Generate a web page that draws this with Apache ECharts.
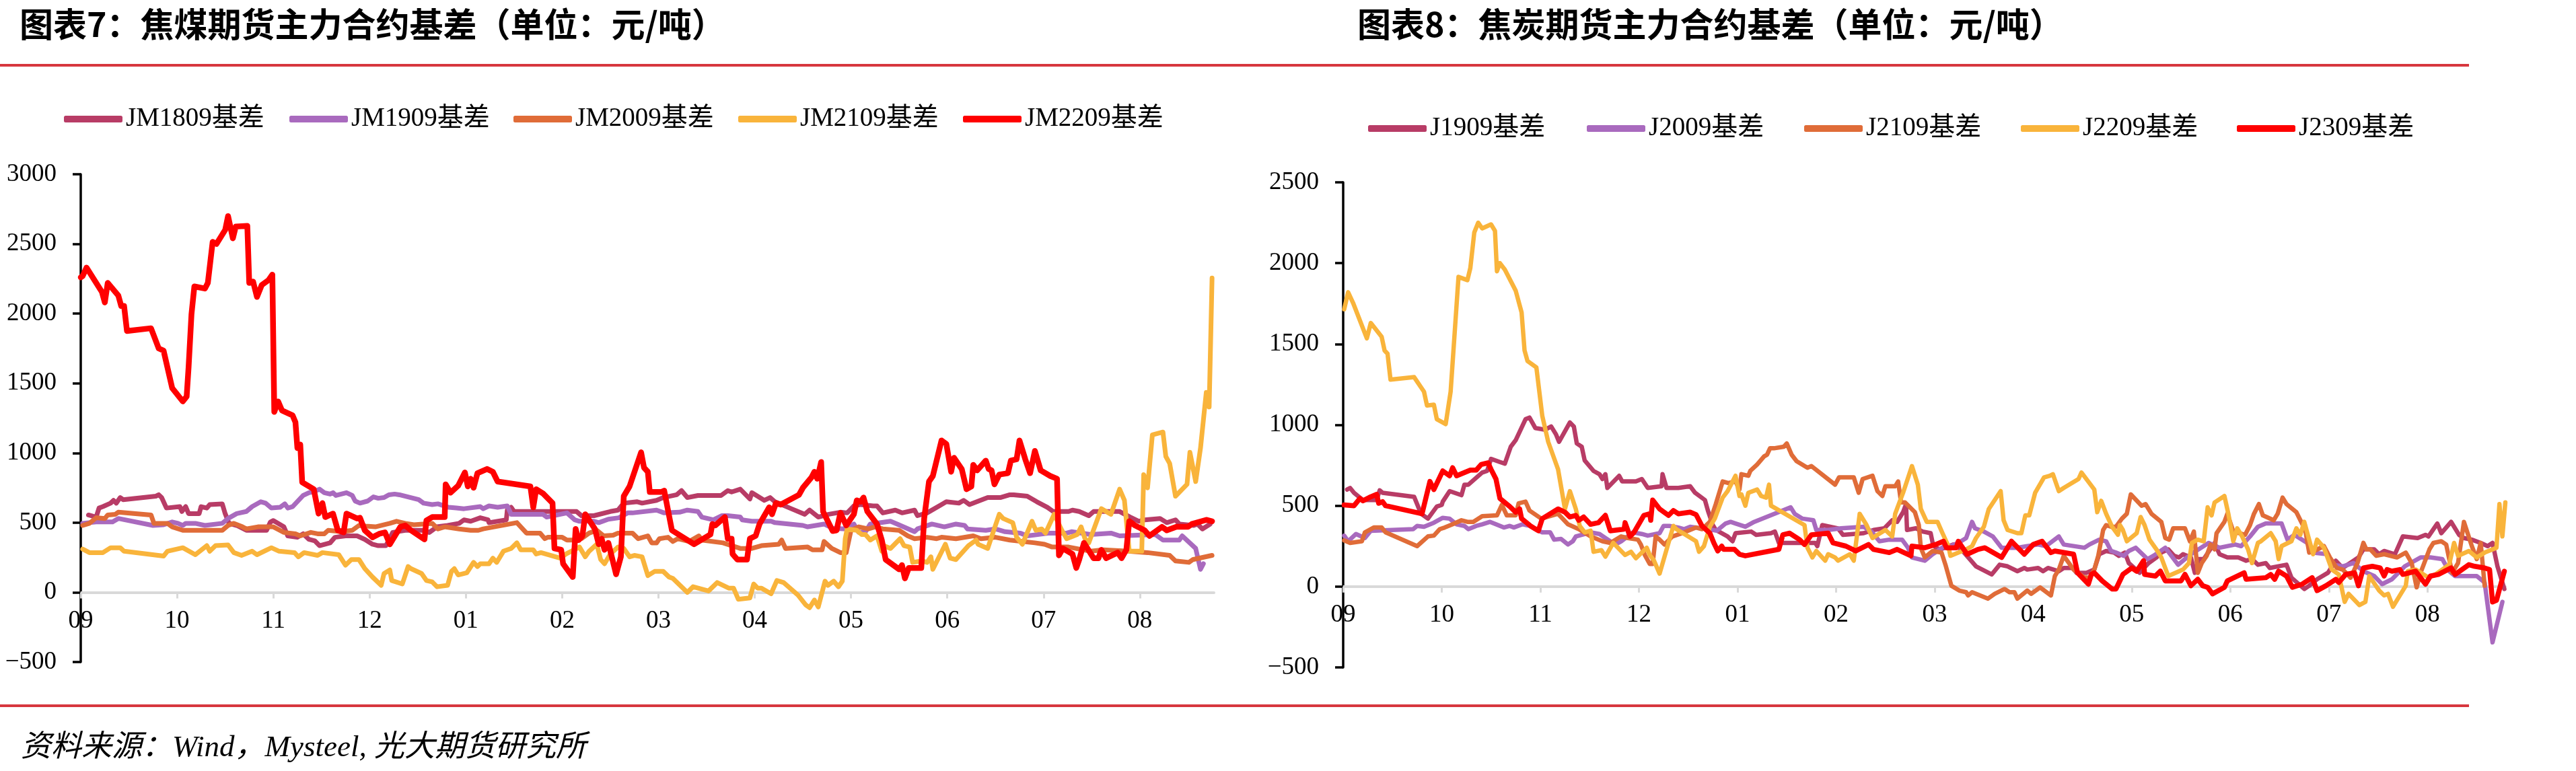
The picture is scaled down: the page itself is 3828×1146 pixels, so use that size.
<!DOCTYPE html>
<html>
<head>
<meta charset="utf-8">
<script src="https://cdn.jsdelivr.net/npm/echarts@6/dist/echarts.min.js"></script>
<style>
html,body{margin:0;padding:0;background:#fff;}
#c{width:3828px;height:1146px;}
</style>
</head>
<body>
<div id="c"></div>
<script>
// ---------- tick labels ----------
const monthLabels = ['09','10','11','12','01','02','03','04','05','06','07','08'];
const monthTicks = [0,1,2,3,4,5,6,7,8,9,10,11];

// ---------- titles / names ----------
const titleLeft = '图表7：焦煤期货主力合约基差（单位：元/吨）';
const titleRight = '图表8：焦炭期货主力合约基差（单位：元/吨）';
const sourceText = '资料来源：Wind，Mysteel, 光大期货研究所';
const namesLeft = ['JM1809基差','JM1909基差','JM2009基差','JM2109基差','JM2209基差'];
const namesRight = ['J1909基差','J2009基差','J2109基差','J2209基差','J2309基差'];

// ---------- data: [month position from Sep 1, basis] ----------
const jm1809 = [[0.08,555],[0.16,540],[0.19,605],[0.23,615],[0.31,640],[0.34,660],[0.37,640],[0.41,680],[0.44,665],[0.78,690],[0.81,700],[0.84,680],[0.89,605],[1.03,615],[1.05,580],[1.09,615],[1.12,565],[1.23,565],[1.25,615],[1.31,605],[1.34,630],[1.47,635],[1.50,565],[1.54,495],[1.62,480],[1.72,445],[1.93,445],[1.97,505],[2.00,515],[2.11,470],[2.15,405],[2.25,395],[2.31,420],[2.37,380],[2.43,370],[2.48,335],[2.59,355],[2.64,395],[2.75,405],[2.87,405],[2.95,380],[3.03,345],[3.09,335],[3.17,335],[3.24,430],[3.37,445],[3.56,445],[3.62,430],[3.70,470],[3.81,480],[3.93,495],[3.98,520],[4.05,510],[4.15,535],[4.23,520],[4.24,500],[4.42,520],[4.43,590],[4.47,610],[4.50,580],[4.60,580],[5.15,580],[5.20,550],[5.33,550],[5.50,580],[5.58,590],[5.64,640],[5.78,650],[5.83,640],[5.98,660],[6.05,680],[6.19,700],[6.24,730],[6.30,680],[6.41,695],[6.65,695],[6.72,730],[6.76,720],[6.85,740],[6.95,670],[6.97,715],[7.10,660],[7.16,680],[7.21,650],[7.38,600],[7.52,560],[7.57,590],[7.66,540],[7.77,560],[7.89,575],[7.96,570],[8.03,620],[8.10,630],[8.23,620],[8.27,620],[8.33,570],[8.46,590],[8.53,570],[8.66,590],[8.69,550],[8.79,570],[8.94,630],[8.99,650],[9.12,640],[9.17,660],[9.23,630],[9.42,680],[9.55,680],[9.65,700],[9.69,700],[9.83,690],[9.93,650],[10.04,610],[10.10,580],[10.26,580],[10.30,590],[10.37,580],[10.47,550],[10.52,580],[10.79,580],[10.90,540],[10.99,510],[11.05,520],[11.21,530],[11.28,500],[11.37,520],[11.41,490],[11.56,480],[11.60,490],[11.65,455],[11.73,490]];
const jm1909 = [[0.02,495],[0.16,505],[0.33,505],[0.39,530],[0.75,480],[0.86,485],[0.95,505],[1.01,495],[1.06,480],[1.09,495],[1.19,495],[1.29,480],[1.47,495],[1.53,530],[1.62,565],[1.72,580],[1.78,615],[1.87,650],[1.92,640],[1.98,605],[2.07,610],[2.12,635],[2.15,605],[2.20,615],[2.31,695],[2.37,715],[2.43,725],[2.48,740],[2.53,715],[2.59,705],[2.62,715],[2.65,695],[2.76,715],[2.82,695],[2.85,655],[2.90,640],[2.98,655],[3.04,685],[3.09,675],[3.15,680],[3.20,700],[3.26,705],[3.31,700],[3.51,665],[3.56,640],[3.65,630],[3.71,635],[3.82,610],[3.90,605],[3.98,600],[4.15,615],[4.18,600],[4.24,620],[4.33,610],[4.43,620],[4.47,560],[4.80,560],[4.84,540],[5.05,570],[5.13,520],[5.18,510],[5.33,510],[5.38,500],[5.48,525],[5.59,535],[5.68,570],[5.73,570],[5.98,590],[6.06,570],[6.22,575],[6.30,590],[6.41,580],[6.45,540],[6.57,520],[6.66,550],[6.72,550],[6.85,540],[6.87,520],[6.97,510],[7.17,510],[7.21,500],[7.50,480],[7.55,470],[7.72,490],[7.81,460],[7.95,455],[8.03,490],[8.08,430],[8.15,435],[8.20,490],[8.41,510],[8.48,490],[8.66,435],[8.69,455],[8.84,490],[8.97,470],[9.09,490],[9.18,480],[9.21,455],[9.40,445],[9.50,455],[9.60,435],[9.76,425],[9.83,405],[10.06,425],[10.24,425],[10.29,435],[10.49,415],[10.70,425],[10.79,405],[11.16,415],[11.24,375],[11.41,375],[11.44,405],[11.58,315],[11.63,165],[11.66,205]];
const jm2009 = [[0.02,480],[0.09,495],[0.16,535],[0.25,530],[0.28,555],[0.36,560],[0.39,575],[0.73,555],[0.76,495],[0.90,495],[0.95,470],[1.06,445],[1.47,445],[1.53,480],[1.59,495],[1.68,470],[1.72,455],[1.84,470],[2.00,470],[2.11,430],[2.23,420],[2.28,405],[2.39,430],[2.46,420],[2.53,420],[2.57,445],[2.71,435],[2.82,445],[2.89,480],[2.96,475],[3.06,470],[3.21,495],[3.28,510],[3.37,495],[3.46,485],[3.65,495],[3.71,455],[3.78,470],[3.93,455],[4.05,445],[4.13,445],[4.18,455],[4.53,500],[4.57,470],[4.63,425],[4.77,425],[4.82,385],[4.85,395],[5.00,395],[5.05,375],[5.15,375],[5.20,385],[5.28,425],[5.36,445],[5.43,405],[5.53,410],[5.58,425],[5.73,425],[5.79,385],[5.89,405],[5.93,355],[5.98,355],[6.01,385],[6.10,395],[6.15,365],[6.20,385],[6.32,365],[6.42,405],[6.45,375],[6.67,355],[6.85,315],[6.97,315],[7.07,335],[7.25,345],[7.28,375],[7.32,315],[7.55,325],[7.60,305],[7.70,305],[7.72,365],[7.80,315],[7.89,285],[7.95,285],[8.00,445],[8.08,470],[8.18,455],[8.25,470],[8.33,455],[8.50,445],[8.59,405],[8.66,385],[8.79,395],[8.89,385],[8.94,395],[9.09,385],[9.27,405],[9.35,385],[9.50,395],[9.65,375],[9.91,355],[10.01,345],[10.09,325],[10.26,325],[10.49,295],[10.62,305],[10.88,295],[11.08,285],[11.31,265],[11.37,225],[11.51,215],[11.55,235],[11.75,265]];
const jm2109 = [[0.02,310],[0.09,285],[0.23,285],[0.31,320],[0.41,320],[0.45,295],[0.86,260],[0.90,295],[1.06,320],[1.19,270],[1.31,335],[1.34,295],[1.40,335],[1.53,340],[1.59,285],[1.67,265],[1.78,295],[1.83,270],[1.98,320],[2.06,295],[2.22,285],[2.26,255],[2.32,285],[2.46,265],[2.51,285],[2.68,270],[2.75,195],[2.81,235],[2.89,235],[2.95,170],[3.03,110],[3.12,50],[3.15,135],[3.21,160],[3.23,85],[3.34,60],[3.40,185],[3.43,170],[3.54,135],[3.59,85],[3.65,75],[3.70,40],[3.81,50],[3.85,150],[3.88,170],[3.92,125],[4.01,140],[4.08,215],[4.12,185],[4.15,205],[4.24,205],[4.28,245],[4.32,215],[4.39,295],[4.47,315],[4.53,355],[4.57,305],[4.70,305],[4.73,275],[4.78,285],[4.98,245],[5.04,275],[5.18,325],[5.24,255],[5.28,295],[5.36,345],[5.40,235],[5.44,205],[5.50,275],[5.58,325],[5.64,315],[5.70,255],[5.75,265],[5.83,255],[5.89,120],[5.96,150],[6.05,150],[6.11,110],[6.15,100],[6.30,0],[6.36,40],[6.52,10],[6.61,70],[6.73,30],[6.78,30],[6.83,-50],[6.95,-40],[6.99,60],[7.03,30],[7.07,30],[7.17,-10],[7.23,85],[7.30,70],[7.45,-20],[7.53,-90],[7.57,-110],[7.62,-55],[7.66,-105],[7.73,80],[7.76,50],[7.82,80],[7.87,40],[7.91,80],[7.94,385],[7.96,455],[8.06,445],[8.11,415],[8.15,415],[8.20,375],[8.27,405],[8.32,295],[8.34,335],[8.41,315],[8.51,385],[8.55,335],[8.61,325],[8.64,215],[8.74,225],[8.79,215],[8.83,255],[8.85,165],[8.98,345],[9.03,245],[9.09,235],[9.22,335],[9.30,375],[9.32,345],[9.42,315],[9.50,480],[9.54,560],[9.58,530],[9.68,500],[9.72,395],[9.78,345],[9.88,510],[9.92,445],[9.98,455],[10.02,425],[10.11,560],[10.19,445],[10.24,385],[10.35,415],[10.39,470],[10.43,385],[10.47,355],[10.60,600],[10.70,560],[10.79,740],[10.84,660],[10.89,295],[11.02,295],[11.04,845],[11.08,750],[11.13,1130],[11.24,1150],[11.27,975],[11.31,925],[11.37,690],[11.49,775],[11.52,1005],[11.58,795],[11.63,1035],[11.69,1435],[11.72,1330],[11.75,2255]];
const jm2209 = [[0.00,2260],[0.02,2270],[0.06,2330],[0.22,2155],[0.25,2080],[0.28,2220],[0.39,2130],[0.42,2055],[0.45,2055],[0.48,1875],[0.73,1895],[0.81,1750],[0.86,1735],[0.95,1465],[1.06,1370],[1.10,1405],[1.12,1615],[1.15,1995],[1.18,2195],[1.29,2180],[1.32,2220],[1.37,2515],[1.41,2500],[1.50,2600],[1.53,2700],[1.58,2540],[1.61,2625],[1.73,2630],[1.75,2220],[1.79,2230],[1.83,2120],[1.88,2205],[1.95,2240],[1.99,2280],[2.01,1295],[2.05,1370],[2.09,1305],[2.20,1270],[2.23,1220],[2.25,1035],[2.28,1060],[2.30,790],[2.42,740],[2.47,565],[2.51,640],[2.54,540],[2.62,565],[2.67,445],[2.73,430],[2.76,565],[2.87,530],[2.90,535],[2.95,445],[3.03,395],[3.10,420],[3.16,430],[3.21,345],[3.32,470],[3.37,480],[3.43,445],[3.57,380],[3.59,515],[3.65,540],[3.78,540],[3.79,775],[3.84,715],[3.92,765],[3.99,860],[4.02,760],[4.05,815],[4.08,750],[4.12,855],[4.22,885],[4.28,865],[4.33,795],[4.67,760],[4.70,610],[4.73,740],[4.80,710],[4.90,640],[4.92,315],[4.99,305],[5.01,205],[5.11,110],[5.14,455],[5.17,375],[5.21,405],[5.24,560],[5.34,455],[5.38,345],[5.41,385],[5.44,305],[5.48,355],[5.56,130],[5.61,255],[5.64,690],[5.70,760],[5.82,1005],[5.85,895],[5.89,865],[5.91,720],[6.03,720],[6.06,730],[6.14,445],[6.37,345],[6.54,415],[6.56,490],[6.59,480],[6.69,540],[6.72,385],[6.76,385],[6.77,275],[6.82,235],[6.92,235],[6.95,385],[7.01,405],[7.05,490],[7.15,610],[7.18,560],[7.22,640],[7.27,630],[7.46,700],[7.50,750],[7.59,825],[7.62,865],[7.65,815],[7.69,935],[7.71,580],[7.81,440],[7.85,445],[7.89,570],[7.95,480],[8.03,560],[8.06,660],[8.10,650],[8.13,680],[8.17,580],[8.27,490],[8.32,375],[8.36,235],[8.50,165],[8.53,195],[8.56,100],[8.60,175],[8.73,175],[8.76,530],[8.81,795],[8.85,835],[8.94,1090],[8.99,1065],[9.04,865],[9.07,965],[9.15,885],[9.20,740],[9.25,760],[9.27,915],[9.31,875],[9.40,945],[9.43,885],[9.46,875],[9.49,775],[9.54,845],[9.63,855],[9.66,945],[9.72,955],[9.75,1090],[9.81,955],[9.86,855],[9.91,1015],[9.97,875],[10.07,835],[10.14,815],[10.16,265],[10.20,315],[10.30,275],[10.34,175],[10.37,235],[10.42,355],[10.52,245],[10.57,245],[10.60,305],[10.65,245],[10.77,285],[10.81,245],[10.86,305],[10.89,510],[10.95,480],[11.05,445],[11.10,405],[11.23,470],[11.28,445],[11.38,470],[11.50,470],[11.54,490],[11.69,520],[11.75,510]];

const j1909 = [[0.04,600],[0.07,610],[0.11,580],[0.16,555],[0.20,535],[0.34,535],[0.37,595],[0.40,580],[0.72,555],[0.79,450],[0.86,420],[0.95,495],[1.00,505],[1.01,525],[1.08,590],[1.20,565],[1.23,630],[1.27,630],[1.41,705],[1.46,715],[1.50,790],[1.59,770],[1.64,760],[1.70,865],[1.75,905],[1.85,1035],[1.89,1045],[1.95,980],[2.05,970],[2.11,990],[2.16,940],[2.19,895],[2.30,1015],[2.34,990],[2.37,885],[2.42,865],[2.45,780],[2.54,715],[2.60,695],[2.63,665],[2.66,695],[2.68,610],[2.80,685],[2.83,650],[2.97,650],[3.03,665],[3.09,610],[3.23,620],[3.24,695],[3.28,610],[3.40,610],[3.52,620],[3.57,580],[3.67,535],[3.70,470],[3.75,380],[3.78,350],[3.90,310],[3.95,280],[3.98,330],[4.14,340],[4.19,320],[4.34,330],[4.38,340],[4.42,270],[4.79,270],[4.81,250],[4.86,380],[5.02,360],[5.07,320],[5.28,330],[5.38,350],[5.49,360],[5.57,410],[5.62,400],[5.68,460],[5.71,510],[5.72,350],[5.81,360],[5.88,340],[5.96,330],[5.98,270],[6.01,240],[6.06,230],[6.19,260],[6.27,230],[6.37,160],[6.42,125],[6.58,75],[6.66,135],[6.74,125],[6.84,95],[6.91,115],[6.94,105],[7.05,115],[7.10,95],[7.15,115],[7.26,95],[7.31,115],[7.40,115],[7.44,85],[7.54,85],[7.62,105],[7.67,200],[7.74,220],[7.82,210],[7.87,190],[7.93,210],[7.97,145],[8.08,85],[8.17,145],[8.25,180],[8.30,210],[8.37,230],[8.43,190],[8.48,180],[8.52,200],[8.60,180],[8.64,85],[8.68,170],[8.73,170],[8.84,270],[8.89,200],[8.97,180],[9.08,180],[9.16,160],[9.22,170],[9.28,135],[9.36,145],[9.40,115],[9.57,135],[9.62,55],[9.75,-15],[9.80,5],[9.88,45],[9.99,85],[10.07,160],[10.14,115],[10.25,160],[10.30,180],[10.35,230],[10.46,230],[10.51,200],[10.56,220],[10.67,200],[10.75,310],[10.90,300],[10.98,320],[11.01,310],[11.10,390],[11.14,330],[11.24,400],[11.32,320],[11.37,300],[11.45,290],[11.54,270],[11.61,250],[11.66,270],[11.71,125],[11.78,-15]];
const j2009 = [[0.01,315],[0.05,280],[0.13,325],[0.22,300],[0.28,345],[0.71,355],[0.75,375],[0.82,370],[0.92,395],[1.01,425],[1.08,420],[1.15,385],[1.23,375],[1.27,355],[1.35,375],[1.41,385],[1.49,400],[1.55,385],[1.63,365],[1.69,375],[1.73,365],[1.82,385],[1.90,375],[1.95,355],[2.02,335],[2.10,335],[2.14,290],[2.21,295],[2.28,260],[2.33,280],[2.36,310],[2.51,335],[2.60,325],[2.66,300],[2.76,260],[2.82,280],[2.94,335],[3.03,325],[3.09,315],[3.21,330],[3.25,375],[3.31,375],[3.40,365],[3.46,355],[3.52,370],[3.58,365],[3.70,355],[3.79,345],[3.88,390],[3.93,400],[3.98,390],[4.08,370],[4.17,400],[4.54,490],[4.58,450],[4.66,420],[4.77,410],[4.80,350],[4.92,350],[5.05,360],[5.28,370],[5.36,340],[5.44,280],[5.54,290],[5.67,290],[5.73,240],[5.77,180],[5.90,160],[5.98,200],[6.03,220],[6.10,250],[6.16,250],[6.24,270],[6.32,300],[6.38,400],[6.41,360],[6.50,340],[6.59,310],[6.68,240],[6.84,240],[6.94,250],[7.05,260],[7.13,250],[7.26,310],[7.31,260],[7.52,240],[7.57,260],[7.67,290],[7.74,280],[7.79,220],[7.84,210],[7.92,190],[7.97,220],[8.04,240],[8.16,170],[8.22,190],[8.34,240],[8.47,135],[8.60,200],[8.78,270],[8.89,240],[9.05,260],[9.11,250],[9.20,310],[9.28,370],[9.36,390],[9.52,390],[9.58,290],[9.65,320],[9.78,270],[9.83,210],[9.99,200],[10.04,135],[10.14,125],[10.25,145],[10.35,95],[10.46,65],[10.54,15],[10.64,45],[10.77,125],[10.93,180],[11.03,180],[11.15,170],[11.22,95],[11.28,65],[11.50,65],[11.58,25],[11.66,-345],[11.76,-95]];
const j2109 = [[0.01,285],[0.07,270],[0.19,280],[0.22,335],[0.31,365],[0.39,365],[0.43,335],[0.75,250],[0.86,310],[0.92,315],[0.98,355],[1.03,365],[1.11,385],[1.20,410],[1.26,400],[1.32,400],[1.41,435],[1.56,440],[1.61,505],[1.66,440],[1.75,440],[1.78,515],[1.85,525],[1.89,470],[2.01,420],[2.18,450],[2.28,385],[2.39,355],[2.51,310],[2.63,280],[2.71,270],[2.82,310],[2.89,300],[2.99,290],[3.02,260],[3.06,195],[3.11,140],[3.14,140],[3.17,310],[3.21,290],[3.26,260],[3.34,310],[3.46,335],[3.58,365],[3.64,355],[3.72,400],[3.78,510],[3.85,650],[3.91,640],[3.98,650],[4.02,600],[4.04,695],[4.11,685],[4.13,715],[4.20,755],[4.27,805],[4.30,815],[4.33,855],[4.37,855],[4.47,865],[4.50,885],[4.55,815],[4.60,775],[4.71,735],[4.75,745],[4.99,630],[5.03,675],[5.18,675],[5.23,580],[5.27,665],[5.37,685],[5.42,590],[5.47,560],[5.50,620],[5.60,620],[5.63,650],[5.66,520],[5.70,520],[5.80,460],[5.84,380],[5.86,240],[5.90,180],[5.98,220],[6.07,210],[6.11,135],[6.17,5],[6.25,-25],[6.32,-35],[6.34,-55],[6.38,-35],[6.54,-75],[6.61,-45],[6.71,-15],[6.76,-35],[6.81,-35],[6.84,-75],[6.94,-25],[6.98,-45],[7.07,-5],[7.18,-55],[7.22,65],[7.26,105],[7.31,190],[7.41,105],[7.52,55],[7.57,55],[7.62,105],[7.66,190],[7.71,350],[7.74,380],[7.79,370],[7.84,370],[7.90,420],[7.95,450],[7.99,570],[8.10,500],[8.14,510],[8.20,450],[8.30,400],[8.34,300],[8.38,290],[8.42,360],[8.54,360],[8.59,280],[8.63,340],[8.67,85],[8.71,145],[8.76,190],[8.80,260],[8.84,230],[8.86,330],[8.94,400],[8.97,450],[9.03,340],[9.15,320],[9.20,380],[9.24,450],[9.29,510],[9.33,440],[9.44,410],[9.48,450],[9.53,550],[9.57,510],[9.67,460],[9.76,350],[9.80,210],[9.85,220],[9.95,250],[10.01,180],[10.08,115],[10.14,105],[10.22,55],[10.29,145],[10.35,270],[10.38,230],[10.42,230],[10.48,190],[10.56,200],[10.69,180],[10.78,210],[10.84,145],[10.89,-5],[10.93,85],[11.02,230],[11.06,270],[11.14,280],[11.19,260],[11.25,85],[11.31,145],[11.37,400],[11.45,250],[11.50,170],[11.54,270],[11.58,5]];
const j2209 = [[0.01,1715],[0.05,1820],[0.10,1755],[0.24,1535],[0.28,1630],[0.39,1545],[0.42,1460],[0.45,1440],[0.48,1280],[0.72,1295],[0.82,1205],[0.85,1120],[0.92,1125],[0.95,1035],[1.04,1005],[1.09,1205],[1.17,1915],[1.26,1895],[1.29,1970],[1.33,2190],[1.37,2250],[1.41,2215],[1.50,2240],[1.54,2200],[1.56,1950],[1.59,2000],[1.64,1960],[1.75,1830],[1.81,1695],[1.84,1460],[1.87,1395],[1.96,1355],[2.02,1055],[2.08,895],[2.18,725],[2.21,620],[2.25,480],[2.30,590],[2.36,480],[2.40,375],[2.45,335],[2.51,345],[2.54,215],[2.62,225],[2.66,185],[2.74,270],[2.86,195],[2.92,215],[2.97,175],[3.08,240],[3.11,195],[3.15,165],[3.21,80],[3.26,185],[3.35,375],[3.38,355],[3.58,280],[3.61,215],[3.66,250],[3.72,370],[3.77,420],[3.85,550],[3.90,590],[3.98,685],[4.02,560],[4.04,570],[4.08,500],[4.11,580],[4.20,600],[4.24,560],[4.29,550],[4.32,630],[4.34,500],[4.68,380],[4.71,240],[4.76,180],[4.80,220],[4.89,160],[4.92,200],[4.99,180],[5.02,160],[5.14,200],[5.18,160],[5.24,450],[5.31,380],[5.37,300],[5.42,320],[5.50,350],[5.57,310],[5.60,450],[5.68,580],[5.77,745],[5.83,630],[5.86,480],[5.92,400],[6.03,400],[6.08,330],[6.14,250],[6.16,190],[6.32,230],[6.38,250],[6.42,300],[6.50,370],[6.55,480],[6.67,590],[6.70,410],[6.74,350],[6.84,330],[6.88,330],[6.92,440],[6.96,440],[7.02,580],[7.11,675],[7.17,685],[7.20,695],[7.26,590],[7.31,610],[7.46,665],[7.49,705],[7.62,600],[7.65,460],[7.69,530],[7.74,450],[7.80,370],[7.86,320],[7.88,380],[7.91,350],[7.95,280],[8.05,330],[8.09,430],[8.13,380],[8.18,290],[8.25,230],[8.30,180],[8.37,65],[8.52,105],[8.58,145],[8.61,270],[8.67,290],[8.73,280],[8.77,490],[8.81,440],[8.84,520],[8.94,560],[8.98,450],[9.03,280],[9.07,360],[9.12,310],[9.18,230],[9.22,145],[9.28,270],[9.31,280],[9.41,330],[9.46,280],[9.49,170],[9.52,250],[9.62,280],[9.67,360],[9.71,320],[9.75,400],[9.84,200],[9.88,290],[9.95,240],[10.03,105],[10.10,75],[10.16,-95],[10.20,-45],[10.31,-115],[10.37,-95],[10.41,65],[10.51,-25],[10.56,-55],[10.60,-45],[10.65,-125],[10.78,5],[10.80,95],[10.88,105],[11.01,55],[11.08,75],[11.22,135],[11.27,270],[11.31,190],[11.42,220],[11.50,180],[11.58,210],[11.70,240],[11.73,510],[11.76,310],[11.79,520]];
const j2309 = [[0.01,505],[0.11,500],[0.17,545],[0.20,530],[0.28,555],[0.34,570],[0.36,515],[0.40,525],[0.43,500],[0.80,450],[0.88,650],[0.92,600],[1.01,715],[1.08,685],[1.11,735],[1.15,685],[1.29,720],[1.35,720],[1.40,755],[1.47,765],[1.50,725],[1.55,665],[1.59,545],[1.69,495],[1.75,460],[1.79,480],[1.81,420],[1.90,375],[1.98,345],[2.02,420],[2.18,480],[2.25,460],[2.30,430],[2.36,440],[2.39,410],[2.44,430],[2.51,385],[2.59,395],[2.66,440],[2.71,345],[2.85,355],[2.86,395],[2.91,310],[2.95,335],[3.05,440],[3.11,450],[3.12,410],[3.14,535],[3.21,480],[3.30,440],[3.35,470],[3.40,450],[3.52,460],[3.58,445],[3.64,375],[3.72,330],[3.76,270],[3.80,220],[3.84,250],[3.86,230],[3.97,230],[4.02,200],[4.08,190],[4.42,230],[4.46,320],[4.53,330],[4.63,290],[4.68,260],[4.75,320],[4.92,330],[4.97,270],[5.10,250],[5.20,220],[5.33,260],[5.38,230],[5.54,210],[5.62,230],[5.76,190],[5.77,250],[5.90,240],[6.01,260],[6.09,280],[6.12,240],[6.22,240],[6.24,280],[6.33,200],[6.44,230],[6.51,240],[6.68,180],[6.78,280],[6.91,200],[7.00,260],[7.09,280],[7.18,210],[7.22,220],[7.41,200],[7.45,85],[7.56,15],[7.59,75],[7.62,85],[7.70,35],[7.80,-15],[7.84,-15],[7.91,75],[8.00,115],[8.05,95],[8.12,160],[8.13,75],[8.24,65],[8.29,95],[8.34,35],[8.50,35],[8.54,75],[8.60,5],[8.67,45],[8.72,5],[8.77,-5],[8.82,-45],[8.94,-5],[8.97,35],[9.14,85],[9.16,45],[9.36,55],[9.41,75],[9.45,45],[9.49,95],[9.57,65],[9.63,-5],[9.73,15],[9.83,55],[9.88,-25],[9.97,5],[10.07,45],[10.10,25],[10.17,75],[10.26,85],[10.30,5],[10.35,115],[10.44,125],[10.52,115],[10.56,65],[10.59,105],[10.64,95],[10.72,105],[10.75,75],[10.88,95],[10.98,15],[11.03,65],[11.11,75],[11.24,115],[11.28,75],[11.35,105],[11.42,135],[11.48,125],[11.58,115],[11.63,105],[11.66,-95],[11.70,-85],[11.78,95]];

// ---------- styling ----------
const colors = ['#B83C66','#A96ABE','#E06C38','#F9B43B','#FF0000'];
const serif = '"Liberation Serif","Times New Roman","Noto Sans CJK SC",serif';
const cjk = '"Noto Sans CJK SC","Noto Sans CJK JP",sans-serif';

const chart = echarts.init(document.getElementById('c'), null, {renderer:'canvas'});

// grid geometry
const grids = [
  {left:120, top:259, width:1684, height:725, yMin:-500, yMax:3000, xMax:11.77},
  {left:1996, top:271, width:1727, height:721, yMin:-500, yMax:2500, xMax:11.79}
];

function xAxisCfg(gi){
  const g = grids[gi];
  // place the axis (line, ticks, labels) on the zero level
  const off = -g.height * (0 - g.yMin) / (g.yMax - g.yMin);
  return {
    type:'value', gridIndex:gi, min:0, max:g.xMax, interval:1, position:'bottom', offset:off,
    axisLine:{show:true, onZero:false, lineStyle:{color:'#d9d9d9', width:4}},
    axisTick:{show:true, length:9, customValues:monthTicks, lineStyle:{color:'#d9d9d9', width:3}},
    axisLabel:{show:true, margin:24, customValues:monthTicks, color:'#000', fontSize:37, fontFamily:serif,
      formatter:(v)=> (Number.isInteger(v) && v>=0 && v<12) ? monthLabels[v] : ''},
    splitLine:{show:false}
  };
}
function yAxisCfg(gi){
  const g = grids[gi];
  return {
    type:'value', gridIndex:gi, min:g.yMin, max:g.yMax, interval:500,
    axisLine:{show:true, onZero:false, lineStyle:{color:'#000', width:3.5}},
    axisTick:{show:true, length:12, lineStyle:{color:'#000', width:3.5}},
    axisLabel:{show:true, margin:36, color:'#000', fontSize:37, fontFamily:serif,
      formatter:(v)=> v < 0 ? '\u2212' + Math.abs(v) : String(v)},
    splitLine:{show:false}
  };
}
function lineSeries(name, data, color, idx, width){
  return {
    name, type:'line', data, xAxisIndex:idx, yAxisIndex:idx,
    showSymbol:false, symbol:'none', smooth:false, silent:true,
    lineStyle:{color, width, join:'round', cap:'round'},
    itemStyle:{color},
    emphasis:{disabled:true}
  };
}
function legendItem(name, x, yCenter){
  return {
    data:[name], left:x, top:yCenter-20, padding:0, itemGap:0,
    icon:'roundRect', itemWidth:87, itemHeight:10,
    textStyle:{fontSize:39, fontFamily:serif, color:'#000', lineHeight:40},
    selectedMode:false
  };
}

const leftSeriesData = [jm1809, jm1909, jm2009, jm2109, jm2209];
const rightSeriesData = [j1909, j2009, j2109, j2209, j2309];
const leftLegendX = [95, 430, 763, 1097, 1431];
const rightLegendX = [2033, 2358, 2681, 3003, 3324];

const series = [];
leftSeriesData.forEach((d,i)=> series.push(lineSeries(namesLeft[i], d, colors[i], 0, i===4 ? 8.5 : 7)));
rightSeriesData.forEach((d,i)=> series.push(lineSeries(namesRight[i], d, colors[i], 1, i===4 ? 7.5 : 6.5)));

const legends = [];
namesLeft.forEach((n,i)=> legends.push(legendItem(n, leftLegendX[i], 177)));
namesRight.forEach((n,i)=> legends.push(legendItem(n, rightLegendX[i], 191)));

chart.setOption({
  animation:false,
  backgroundColor:'#fff',
  title:[
    {text:titleLeft, left:29, top:11, padding:0, textStyle:{fontSize:50, fontWeight:'bold', fontFamily:cjk, color:'#000'}},
    {text:titleRight, left:2017, top:11, padding:0, textStyle:{fontSize:50, fontWeight:'bold', fontFamily:cjk, color:'#000'}},
    {text:sourceText, left:31, top:1090, padding:0, textStyle:{fontSize:45, fontStyle:'italic', fontWeight:'normal', fontFamily:serif, color:'#000'}}
  ],
  legend:legends,
  grid:grids.map(g=>({left:g.left, top:g.top, width:g.width, height:g.height, containLabel:false})),
  xAxis:[xAxisCfg(0), xAxisCfg(1)],
  yAxis:[yAxisCfg(0), yAxisCfg(1)],
  series,
  graphic:[
    {type:'rect', silent:true, shape:{x:0, y:95, width:3669, height:4}, style:{fill:'#D7373E'}},
    {type:'rect', silent:true, shape:{x:0, y:1047, width:3669, height:4}, style:{fill:'#D7373E'}}
  ]
});
</script>
</body>
</html>
